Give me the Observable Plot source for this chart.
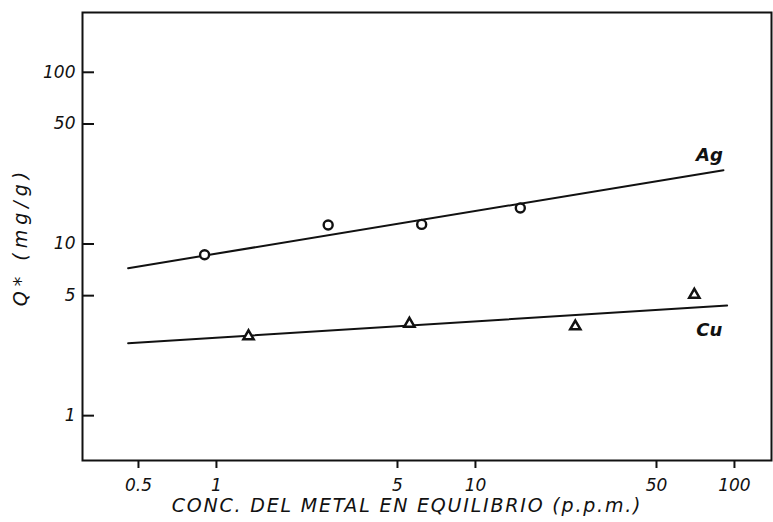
<!DOCTYPE html>
<html>
<head>
<meta charset="utf-8">
<script src="https://cdn.jsdelivr.net/npm/d3@7"></script>
<script src="https://cdn.jsdelivr.net/npm/@observablehq/plot@0.6"></script>
<style>
  html, body { margin: 0; padding: 0; background: #fff; }
  #chart svg { display: block; }
</style>
</head>
<body>
<div id="chart"></div>
<script>
// Measured adsorption of Ag and Cu: equilibrium concentration (p.p.m.) vs. Q* (mg/g)
const agConc = [0.9, 2.7, 6.2, 14.9];
const agQ = [8.65, 12.9, 13.0, 16.2];
const cuConc = [1.33, 5.56, 24.3, 70];
const cuQ = [2.9, 3.43, 3.31, 5.06];

// Fitted straight lines (log–log), end points
const agFitConc = [0.456, 90.7];
const agFitQ = [7.23, 26.9];
const cuFitConc = [0.456, 93.7];
const cuFitQ = [2.64, 4.38];

// Series labels placed beside the fitted lines
const seriesLabels = ["Ag", "Cu"];
const labelConc = [80, 80];
const labelQ = [32.8, 3.13];

// Axis ticks
const xTicks = [0.5, 1, 5, 10, 50, 100];
const xTickLabels = ["0.5", "1", "5", "10", "50", "100"];
const yTicks = [1, 5, 10, 50, 100];
const yTickLabels = ["1", "5", "10", "50", "100"];

const xTitle = "CONC. DEL METAL EN EQUILIBRIO (p.p.m.)";
const yTitle = "Q* (mg/g)";

const pts = (xs, ys) => xs.map((x, i) => ({x, y: ys[i]}));

const W = 773, H = 522;
const mL = 82, mR = 2, mT = 12, mB = 62;
const innerW = W - mL - mR, innerH = H - mT - mB;
const fontFamily = "'DejaVu Sans', sans-serif";
const ink = "#111";

const chart = Plot.plot({
  width: W,
  height: H,
  marginLeft: mL,
  marginRight: mR,
  marginTop: mT,
  marginBottom: mB,
  style: {fontFamily, fontStyle: "italic", color: ink, background: "#fff"},
  x: {type: "log", domain: [0.304, 139], axis: null},
  y: {type: "log", domain: [0.548, 223], axis: null},
  marks: [
    Plot.frame({stroke: ink, strokeWidth: 2}),
    // x ticks: short marks hanging below the frame
    Plot.tickX(xTicks, {x: (d) => d, stroke: ink, strokeWidth: 2, insetTop: innerH, insetBottom: -8}),
    Plot.text(xTicks, {
      x: (d) => d, text: (d, i) => xTickLabels[i],
      frameAnchor: "bottom", lineAnchor: "middle", dy: 25, fontSize: 17, fill: ink
    }),
    // y ticks: short marks pointing into the plot
    Plot.tickY(yTicks, {y: (d) => d, stroke: ink, strokeWidth: 2, insetRight: innerW - 12}),
    Plot.text(yTicks, {
      y: (d) => d, text: (d, i) => yTickLabels[i],
      frameAnchor: "left", textAnchor: "end", dx: -7, fontSize: 17, fill: ink
    }),
    // fitted lines
    Plot.line(pts(agFitConc, agFitQ), {x: "x", y: "y", stroke: ink, strokeWidth: 2}),
    Plot.line(pts(cuFitConc, cuFitQ), {x: "x", y: "y", stroke: ink, strokeWidth: 2}),
    // measured points
    Plot.dot(pts(agConc, agQ), {x: "x", y: "y", symbol: "circle", r: 4.5, stroke: ink, strokeWidth: 2.4, fill: "#fff"}),
    Plot.dot(pts(cuConc, cuQ), {x: "x", y: "y", symbol: "triangle", r: 3.8, stroke: ink, strokeWidth: 2.5, fill: "#fff"}),
    // series labels
    Plot.text(seriesLabels, {
      x: (d, i) => labelConc[i],
      y: (d, i) => labelQ[i],
      text: (d) => d,
      fontSize: 18,
      fontWeight: "bold",
      fill: ink
    }),
    // axis titles
    Plot.text([xTitle], {
      frameAnchor: "bottom", lineAnchor: "middle", textAnchor: "middle",
      dx: -20, dy: 45, fontSize: 19, fill: ink, className: "xtitle"
    }),
    Plot.text([yTitle], {
      frameAnchor: "left", textAnchor: "middle", lineAnchor: "middle",
      dx: -62, rotate: -90, fontSize: 19, fill: ink, className: "ytitle"
    })
  ]
});

// Spaced-out lettering for the axis titles
d3.select(chart).selectAll(".xtitle text").attr("letter-spacing", "1.8px");
d3.select(chart).selectAll(".ytitle text").attr("letter-spacing", "5px");

document.getElementById("chart").appendChild(chart);
</script>
</body>
</html>
